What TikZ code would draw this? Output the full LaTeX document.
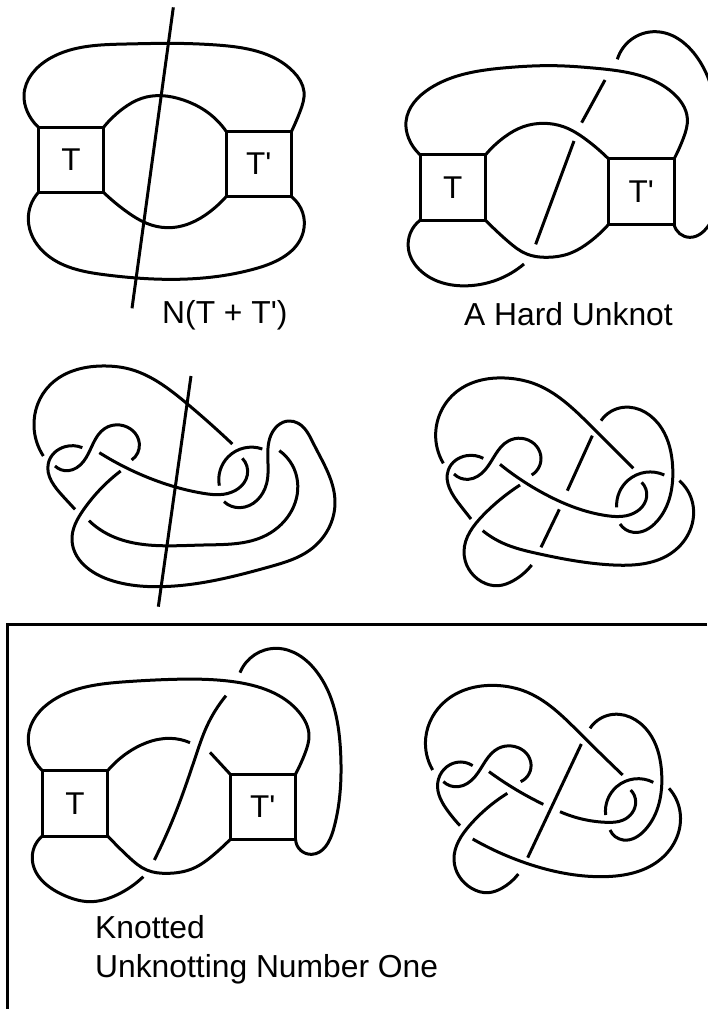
\documentclass[tikz,border=0pt]{standalone}
\usepackage{fontspec}
\setmainfont[Ligatures=TeXOff]{Liberation Sans}
\usetikzlibrary{hobby}
\tikzset{
  strand/.style={line width=3pt,line cap=butt,line join=round},
  tanglebox/.style={draw,line width=3pt,rectangle,outer sep=0pt,minimum width=#1,minimum height=#1,inner sep=0pt,font=\fontsize{31.5}{31.5}\selectfont},
  caption/.style={anchor=base west,inner sep=0pt,font=\fontsize{31.8}{36}\selectfont},
  zoomspace/.style={x=0.33333pt,y=-0.33333pt},
}
\newcommand{\curve}[1]{\draw[strand] plot[hobby] coordinates {#1};}
\begin{document}
\begin{tikzpicture}[x=1pt,y=-1pt]
\useasboundingbox (0,0) rectangle (707,1009);
% ---- Diagram 1
\begin{scope}[shift={(0pt,0pt)},zoomspace]
\node[tanglebox=65.5pt] (a) at (213,479.5) {T};
\node[tanglebox=65.5pt] (b) at (776.5,492) {T'};
\curve{(a.north west)(82,335)(72,285)(150,175)(380,132)(510,130)(650,135)(880,215)(912,275)(900,335)(b.north east)}
\curve{(a.north east)(370,325)(425,295)(485,287)(550,300)(620,335)(b.north west)}
\curve{(a.south east)(380,635)(440,670)(500,683)(570,670)(630,635)(b.south west)}
\curve{(a.south west)(85,660)(130,755)(320,825)(500,838)(770,805)(910,695)(b.south east)}
\coordinate (atop) at (520,22);
\coordinate (abot) at (396,925);
\draw[strand] (atop) -- (abot);
\end{scope}
\node[caption] (acap) at (162,323) {N(T + T')};
% ---- Diagram 2
\begin{scope}[shift={(380pt,0pt)},zoomspace]
\node[tanglebox=65.5pt] (c) at (218.5,562.5) {T};
\node[tanglebox=65.5pt] (d) at (784,575) {T'};
\curve{(c.north west)(86,415)(78,365)(150,265)(380,203)(520,197)(650,205)(880,280)(922,355)(910,415)(d.north east)}
\curve{(c.north east)(375,410)(430,380)(490,370)(550,380)(620,420)(d.north west)}
\curve{(c.south east)(385,725)(440,762)(500,772)(570,760)(630,725)(d.south west)}
\curve{(c.south west)(85,745)(125,815)(270,857)(350,840)(432,792)}
\coordinate (c1) at (467,733);
\coordinate (c2) at (582,423);
\coordinate (c3) at (605,368);
\coordinate (c4) at (675,240);
\draw[strand] (c1) -- (c2);
\draw[strand] (c3) -- (c4);
\curve{(712,178)(825,95)(960,185)(1005,320)}
\curve{(d.south east)(930,712)(990,670)(1005,640)}
\end{scope}
\node[caption] (ccap) at (464,325) {A Hard Unknot};
% ---- Diagram 3
\begin{scope}[shift={(10pt,-360pt)},zoomspace]
\curve{(100,288)(72,200)(120,75)(290,18)(350,25)(530,130)(667,252)}
\curve{(217,263)(165,260)(115,310)(160,410)(195,448)}
\curve{(135,318)(175,332)(220,305)(285,205)(330,195)(388,250)(365,300)}
\curve{(268,278)(420,355)(580,400)(640,403)(712,345)(697,295)}
\curve{(332,333)(220,450)(186,540)(300,660)(450,680)(780,620)(900,570)(975,430)(910,250)(865,190)(835,183)(783,225)(770,370)(690,443)(642,425)}
\curve{(628,377)(655,290)(757,267)}
\curve{(808,272)(860,350)(770,525)(580,555)(280,515)(237,482)}
\coordinate (e1) at (543,48);
\coordinate (e2) at (445,740);
\draw[strand] (e1) -- (e2);
\end{scope}
% ---- Diagram 4
\begin{scope}[shift={(420pt,-360pt)},zoomspace]
\curve{(70,310)(47,220)(110,95)(270,55)(340,70)(510,195)(640,325)}
\curve{(190,295)(140,287)(85,330)(120,435)(153,477)}
\curve{(102,342)(145,358)(195,330)(265,243)(305,235)(362,285)(335,345)}
\curve{(240,313)(380,405)(560,467)(620,467)(680,410)(665,367)}
\curve{(300,375)(190,465)(132,575)(185,665)(235,677)(280,662)(335,615)}
\curve{(590,442)(625,360)(733,345)}
\curve{(778,362)(818,430)(760,575)(580,615)(350,580)(250,550)(188,512)}
\curve{(543,182)(610,142)(725,205)(758,320)(710,485)(640,517)(600,492)}
\coordinate (f1) at (517,227);
\coordinate (f2) at (442,392);
\coordinate (f3) at (418,448);
\coordinate (f4) at (363,562);
\draw[strand] (f1) -- (f2);
\draw[strand] (f3) -- (f4);
\end{scope}
% ---- Frame
\coordinate (fa) at (707,624);
\coordinate (fb) at (7,624);
\coordinate (fc) at (7,1009);
\draw[line width=3pt] (fa) -- (fb) -- (fc);
% ---- Diagram 5
\begin{scope}[shift={(0pt,-620pt)},zoomspace]
\node[tanglebox=65.5pt] (g) at (225,550) {T};
\node[tanglebox=65.5pt] (h) at (788.5,560.5) {T'};
\curve{(g.north west)(93,400)(85,350)(160,240)(380,185)(520,178)(700,185)(900,280)(927,345)(915,400)(h.north east)}
\curve{(g.north east)(380,400)(440,368)(510,355)(570,368)}
\coordinate (hin) at (630,397);
\draw[strand] (hin) -- (h.north west);
\curve{(g.south east)(385,710)(440,750)(505,760)(580,745)(640,705)(h.south west)}
\curve{(g.south west)(97,720)(190,825)(270,845)(350,825)(430,770)}
\coordinate (g1) at (463,720);
\coordinate (g2) at (590,400);
\coordinate (g3) at (678,227);
\draw[strand] plot[hobby] coordinates {(g1)(530,570)(g2)(620,320)(g3)};
\curve{(720,158)(830,85)(950,155)(1022,400)(1000,630)(935,703)(h.south east)}
\end{scope}
\node[caption] (gcap1) at (95,938) {Knotted};
\node[caption] (gcap2) at (95,977.5) {Unknotting Number One};
% ---- Diagram 6
\begin{scope}[shift={(410pt,-670pt)},zoomspace]
\curve{(68,300)(47,205)(110,90)(270,47)(340,62)(510,190)(638,315)}
\curve{(188,287)(140,277)(83,340)(115,425)(150,467)}
\curve{(100,335)(145,350)(195,320)(265,235)(305,228)(362,275)(332,335)}
\curve{(237,305)(320,360)(400,403)}
\curve{(450,425)(590,457)(640,450)(677,395)(662,360)}
\curve{(292,370)(180,465)(132,570)(185,655)(235,668)(275,655)(325,612)}
\curve{(587,435)(620,350)(730,337)}
\curve{(777,355)(810,425)(755,565)(580,620)(350,580)(188,507)}
\curve{(540,175)(610,133)(725,200)(755,310)(705,480)(640,510)(600,480)}
\coordinate (k1) at (514,222);
\coordinate (k2) at (353,563);
\draw[strand] (k1) -- (k2);
\end{scope}
\end{tikzpicture}
\end{document}
